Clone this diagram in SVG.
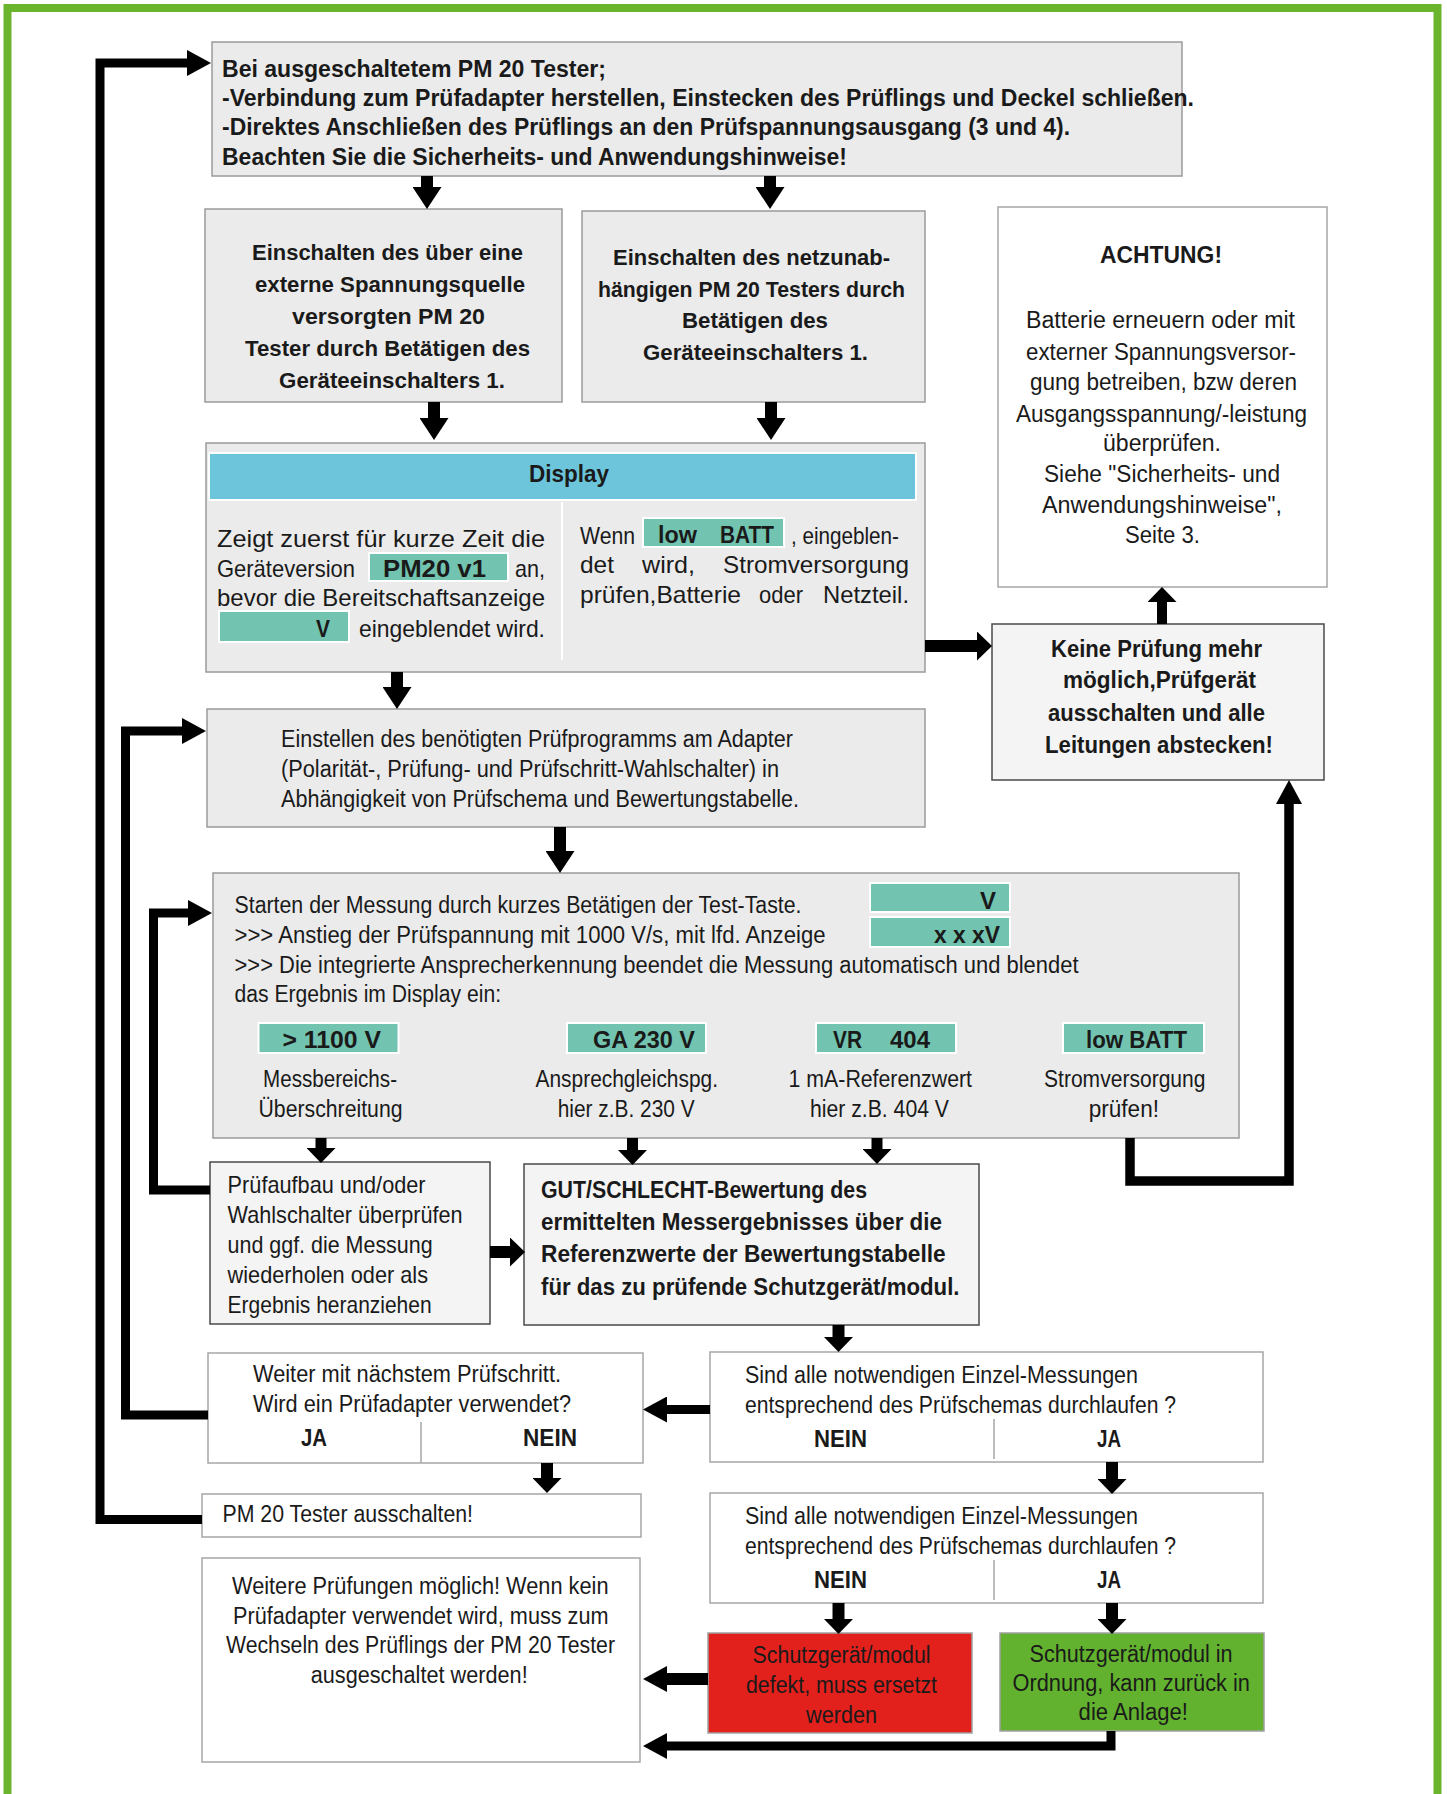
<svg xmlns="http://www.w3.org/2000/svg" width="1447" height="1794" viewBox="0 0 1447 1794">
<style>
text{font-family:"Liberation Sans",Arial,sans-serif;fill:#1a1a1a;font-size:23px}
.b{font-weight:bold}
.n24{font-size:24px}
.g{fill:#ebebeb;stroke:#9a9a9a;stroke-width:1.5}
.w{fill:#ffffff;stroke:#a6a6a6;stroke-width:1.5}
.l{fill:#f4f4f4;stroke:#4a4a4a;stroke-width:1.5}
.t{fill:#72c4b0;stroke:#ffffff;stroke-width:2}
.c{fill:none;stroke:#000;stroke-linejoin:miter}
.c12{stroke-width:12}
.c9{stroke-width:9}
</style>
<defs>
<marker id="ah" markerUnits="userSpaceOnUse" markerWidth="22" markerHeight="29" refX="0" refY="14.5" orient="auto"><path d="M0,0 L22,14.5 L0,29 z" fill="#000"/></marker>
<marker id="as" markerUnits="userSpaceOnUse" markerWidth="15" markerHeight="29" refX="0" refY="14.5" orient="auto"><path d="M0,0 L15,14.5 L0,29 z" fill="#000"/></marker>
<marker id="al" markerUnits="userSpaceOnUse" markerWidth="24" markerHeight="26" refX="0" refY="13" orient="auto"><path d="M0,0 L24,13 L0,26 z" fill="#000"/></marker>
</defs>
<rect x="0" y="0" width="1447" height="1794" fill="#fff"/>
<rect x="7.5" y="8" width="1430" height="1820" fill="#fff" stroke="#6bb52e" stroke-width="8"/>

<g id="start">
<rect class="g" x="212" y="42" width="970" height="134"/>
<text class="b" x="222" y="77" textLength="384" lengthAdjust="spacingAndGlyphs">Bei ausgeschaltetem PM 20 Tester;</text>
<text class="b" x="222" y="106" textLength="972" lengthAdjust="spacingAndGlyphs">-Verbindung zum Prüfadapter herstellen, Einstecken des Prüflings und Deckel schließen.</text>
<text class="b" x="222" y="135" textLength="848" lengthAdjust="spacingAndGlyphs">-Direktes Anschließen des Prüflings an den Prüfspannungsausgang (3 und 4).</text>
<text class="b" x="222" y="165" textLength="625" lengthAdjust="spacingAndGlyphs">Beachten Sie die Sicherheits- und Anwendungshinweise!</text>
</g>

<g id="ext">
<rect class="g" x="205" y="209" width="357" height="193"/>
<text class="b" style="font-size:22px" x="252" y="260" textLength="271" lengthAdjust="spacingAndGlyphs">Einschalten des über eine</text>
<text class="b" style="font-size:22px" x="255" y="292" textLength="270" lengthAdjust="spacingAndGlyphs">externe Spannungsquelle</text>
<text class="b" style="font-size:22px" x="292" y="324" textLength="193" lengthAdjust="spacingAndGlyphs">versorgten PM 20</text>
<text class="b" style="font-size:22px" x="245" y="356" textLength="285" lengthAdjust="spacingAndGlyphs">Tester durch Betätigen des</text>
<text class="b" style="font-size:22px" x="279" y="388" textLength="226" lengthAdjust="spacingAndGlyphs">Geräteeinschalters 1.</text>
</g>

<g id="batt">
<rect class="g" x="582" y="211" width="343" height="191"/>
<text class="b" style="font-size:22px" x="613" y="265" textLength="277" lengthAdjust="spacingAndGlyphs">Einschalten des netzunab-</text>
<text class="b" style="font-size:22px" x="598" y="297" textLength="307" lengthAdjust="spacingAndGlyphs">hängigen PM 20 Testers durch</text>
<text class="b" style="font-size:22px" x="682" y="328" textLength="146" lengthAdjust="spacingAndGlyphs">Betätigen des</text>
<text class="b" style="font-size:22px" x="643" y="360" textLength="225" lengthAdjust="spacingAndGlyphs">Geräteeinschalters 1.</text>
</g>

<g id="achtung">
<rect class="w" x="998" y="207" width="329" height="380"/>
<text class="b" style="font-size:24px" x="1100" y="263" textLength="122" lengthAdjust="spacingAndGlyphs">ACHTUNG!</text>
<text x="1026" y="328" textLength="269" lengthAdjust="spacingAndGlyphs">Batterie erneuern oder mit</text>
<text x="1026" y="360" textLength="270" lengthAdjust="spacingAndGlyphs">externer Spannungsversor-</text>
<text x="1030" y="390" textLength="267" lengthAdjust="spacingAndGlyphs">gung betreiben, bzw deren</text>
<text x="1016" y="422" textLength="291" lengthAdjust="spacingAndGlyphs">Ausgangsspannung/-leistung</text>
<text x="1103" y="451" textLength="118" lengthAdjust="spacingAndGlyphs">überprüfen.</text>
<text x="1044" y="482" textLength="236" lengthAdjust="spacingAndGlyphs">Siehe "Sicherheits- und</text>
<text x="1042" y="513" textLength="240" lengthAdjust="spacingAndGlyphs">Anwendungshinweise",</text>
<text x="1125" y="543" textLength="75" lengthAdjust="spacingAndGlyphs">Seite 3.</text>
</g>

<g id="display">
<rect class="g" x="206" y="443" width="719" height="229"/>
<rect x="209" y="453" width="707" height="47" fill="#6cc5da" stroke="#fff" stroke-width="2"/>
<text class="b" style="font-size:24px" x="529" y="482" textLength="80" lengthAdjust="spacingAndGlyphs">Display</text>
<line x1="562" y1="502" x2="562" y2="660" stroke="#fff" stroke-width="2"/>
<text class="n24" x="217" y="547" textLength="328" lengthAdjust="spacingAndGlyphs">Zeigt zuerst für kurze Zeit die</text>
<text class="n24" x="217" y="577" textLength="138" lengthAdjust="spacingAndGlyphs">Geräteversion</text>
<rect class="t" x="369" y="553" width="139" height="28"/>
<text class="b n24" x="383" y="577" textLength="103" lengthAdjust="spacingAndGlyphs">PM20 v1</text>
<text class="n24" x="515" y="577" textLength="30" lengthAdjust="spacingAndGlyphs">an,</text>
<text class="n24" x="217" y="606" textLength="328" lengthAdjust="spacingAndGlyphs">bevor die Bereitschaftsanzeige</text>
<rect class="t" x="219" y="611" width="130" height="31"/>
<text class="b n24" x="316" y="637" textLength="14" lengthAdjust="spacingAndGlyphs">V</text>
<text class="n24" x="359" y="637" textLength="186" lengthAdjust="spacingAndGlyphs">eingeblendet wird.</text>
<text class="n24" x="580" y="544" textLength="55" lengthAdjust="spacingAndGlyphs">Wenn</text>
<rect class="t" x="643" y="518" width="141" height="29"/>
<text class="b n24" x="658" y="543" textLength="39" lengthAdjust="spacingAndGlyphs">low</text>
<text class="b n24" x="720" y="543" textLength="54" lengthAdjust="spacingAndGlyphs">BATT</text>
<text class="n24" x="791" y="544" textLength="108" lengthAdjust="spacingAndGlyphs">, eingeblen-</text>
<text class="n24" x="580" y="573" textLength="34" lengthAdjust="spacingAndGlyphs">det</text>
<text class="n24" x="642" y="573" textLength="53" lengthAdjust="spacingAndGlyphs">wird,</text>
<text class="n24" x="723" y="573" textLength="186" lengthAdjust="spacingAndGlyphs">Stromversorgung</text>
<text class="n24" x="580" y="603" textLength="161" lengthAdjust="spacingAndGlyphs">prüfen,Batterie</text>
<text class="n24" x="759" y="603" textLength="44" lengthAdjust="spacingAndGlyphs">oder</text>
<text class="n24" x="823" y="603" textLength="86" lengthAdjust="spacingAndGlyphs">Netzteil.</text>
</g>

<g id="keine">
<rect class="l" x="992" y="624" width="332" height="156"/>
<text class="b" x="1051" y="657" textLength="211" lengthAdjust="spacingAndGlyphs">Keine Prüfung mehr</text>
<text class="b" x="1063" y="688" textLength="193" lengthAdjust="spacingAndGlyphs">möglich,Prüfgerät</text>
<text class="b" x="1048" y="721" textLength="217" lengthAdjust="spacingAndGlyphs">ausschalten und alle</text>
<text class="b" x="1045" y="753" textLength="228" lengthAdjust="spacingAndGlyphs">Leitungen abstecken!</text>
</g>

<g id="einstellen">
<rect class="g" x="207" y="709" width="718" height="118"/>
<text x="281" y="747" textLength="512" lengthAdjust="spacingAndGlyphs">Einstellen des benötigten Prüfprogramms am Adapter</text>
<text x="281" y="777" textLength="498" lengthAdjust="spacingAndGlyphs">(Polarität-, Prüfung- und Prüfschritt-Wahlschalter) in</text>
<text x="281" y="807" textLength="518" lengthAdjust="spacingAndGlyphs">Abhängigkeit von Prüfschema und Bewertungstabelle.</text>
</g>

<g id="starten">
<rect class="g" x="213" y="873" width="1026" height="265"/>
<text x="234.5" y="913" textLength="567" lengthAdjust="spacingAndGlyphs">Starten der Messung durch kurzes Betätigen der Test-Taste.</text>
<text x="234.5" y="943" textLength="591" lengthAdjust="spacingAndGlyphs">&gt;&gt;&gt; Anstieg der Prüfspannung mit 1000 V/s, mit lfd. Anzeige</text>
<text x="234.5" y="973" textLength="844" lengthAdjust="spacingAndGlyphs">&gt;&gt;&gt; Die integrierte Ansprecherkennung beendet die Messung automatisch und blendet</text>
<text x="234.5" y="1002" textLength="266.5" lengthAdjust="spacingAndGlyphs">das Ergebnis im Display ein:</text>
<rect class="t" x="870" y="883" width="140" height="29"/>
<text class="b" x="980" y="909" textLength="16" lengthAdjust="spacingAndGlyphs">V</text>
<rect class="t" x="870" y="917" width="140" height="30"/>
<text class="b" x="934" y="943" textLength="66" lengthAdjust="spacingAndGlyphs">x x xV</text>
<rect class="t" x="258.5" y="1023" width="140" height="30"/>
<text class="b" x="282.5" y="1048" textLength="98.5" lengthAdjust="spacingAndGlyphs">&gt; 1100 V</text>
<rect class="t" x="567" y="1023" width="139" height="30"/>
<text class="b" x="593" y="1048" textLength="102" lengthAdjust="spacingAndGlyphs">GA 230 V</text>
<rect class="t" x="816" y="1023" width="140" height="30"/>
<text class="b" x="833" y="1048" textLength="29" lengthAdjust="spacingAndGlyphs">VR</text>
<text class="b" x="890" y="1048" textLength="40" lengthAdjust="spacingAndGlyphs">404</text>
<rect class="t" x="1063" y="1023" width="141" height="30"/>
<text class="b" x="1086" y="1048" textLength="101" lengthAdjust="spacingAndGlyphs">low BATT</text>
<text x="263" y="1087" textLength="134" lengthAdjust="spacingAndGlyphs">Messbereichs-</text>
<text x="258.5" y="1117" textLength="144" lengthAdjust="spacingAndGlyphs">Überschreitung</text>
<text x="535.5" y="1087" textLength="182.5" lengthAdjust="spacingAndGlyphs">Ansprechgleichspg.</text>
<text x="557.7" y="1117" textLength="137" lengthAdjust="spacingAndGlyphs">hier z.B. 230 V</text>
<text x="788.6" y="1087" textLength="183.4" lengthAdjust="spacingAndGlyphs">1 mA-Referenzwert</text>
<text x="810" y="1117" textLength="139" lengthAdjust="spacingAndGlyphs">hier z.B. 404 V</text>
<text x="1044" y="1087" textLength="161.5" lengthAdjust="spacingAndGlyphs">Stromversorgung</text>
<text x="1088.7" y="1117" textLength="70.3" lengthAdjust="spacingAndGlyphs">prüfen!</text>
</g>

<g id="pruefaufbau">
<rect class="l" x="210" y="1162" width="280" height="162"/>
<text class="n24" x="227.6" y="1193" textLength="198" lengthAdjust="spacingAndGlyphs">Prüfaufbau und/oder</text>
<text class="n24" x="227.6" y="1223" textLength="235" lengthAdjust="spacingAndGlyphs">Wahlschalter überprüfen</text>
<text class="n24" x="227.6" y="1253" textLength="205" lengthAdjust="spacingAndGlyphs">und ggf. die Messung</text>
<text class="n24" x="227.6" y="1283" textLength="200.4" lengthAdjust="spacingAndGlyphs">wiederholen oder als</text>
<text class="n24" x="227.6" y="1313" textLength="204" lengthAdjust="spacingAndGlyphs">Ergebnis heranziehen</text>
</g>

<g id="bewertung">
<rect class="l" x="524" y="1164" width="455" height="161"/>
<text class="b" x="541" y="1198" textLength="326" lengthAdjust="spacingAndGlyphs">GUT/SCHLECHT-Bewertung des</text>
<text class="b" x="541" y="1230" textLength="401" lengthAdjust="spacingAndGlyphs">ermittelten Messergebnisses über die</text>
<text class="b" x="541" y="1262" textLength="404.6" lengthAdjust="spacingAndGlyphs">Referenzwerte der Bewertungstabelle</text>
<text class="b" x="541" y="1295" textLength="418.5" lengthAdjust="spacingAndGlyphs">für das zu prüfende Schutzgerät/modul.</text>
</g>

<g id="weiter">
<rect class="w" x="208" y="1353" width="435" height="110"/>
<text x="253" y="1382" textLength="308" lengthAdjust="spacingAndGlyphs">Weiter mit nächstem Prüfschritt.</text>
<text x="253" y="1412" textLength="318" lengthAdjust="spacingAndGlyphs">Wird ein Prüfadapter verwendet?</text>
<line x1="421" y1="1422" x2="421" y2="1463" stroke="#a6a6a6" stroke-width="1.5"/>
<text class="b" x="301" y="1446" textLength="26" lengthAdjust="spacingAndGlyphs">JA</text>
<text class="b" x="523" y="1446" textLength="54" lengthAdjust="spacingAndGlyphs">NEIN</text>
</g>

<g id="sind1">
<rect class="w" x="710" y="1352" width="553" height="110"/>
<text x="745" y="1383" textLength="393" lengthAdjust="spacingAndGlyphs">Sind alle notwendigen Einzel-Messungen</text>
<text x="745" y="1413" textLength="431" lengthAdjust="spacingAndGlyphs">entsprechend des Prüfschemas durchlaufen ?</text>
<line x1="994" y1="1419" x2="994" y2="1459" stroke="#a6a6a6" stroke-width="1.5"/>
<text class="b" x="814" y="1447" textLength="53" lengthAdjust="spacingAndGlyphs">NEIN</text>
<text class="b" x="1097" y="1447" textLength="24" lengthAdjust="spacingAndGlyphs">JA</text>
</g>

<g id="pm20aus">
<rect class="w" x="202" y="1494" width="439" height="43"/>
<text x="222.5" y="1522" textLength="250.5" lengthAdjust="spacingAndGlyphs">PM 20 Tester ausschalten!</text>
</g>

<g id="sind2">
<rect class="w" x="710" y="1493" width="553" height="110"/>
<text x="745" y="1524" textLength="393" lengthAdjust="spacingAndGlyphs">Sind alle notwendigen Einzel-Messungen</text>
<text x="745" y="1554" textLength="431" lengthAdjust="spacingAndGlyphs">entsprechend des Prüfschemas durchlaufen ?</text>
<line x1="994" y1="1560" x2="994" y2="1600" stroke="#a6a6a6" stroke-width="1.5"/>
<text class="b" x="814" y="1588" textLength="53" lengthAdjust="spacingAndGlyphs">NEIN</text>
<text class="b" x="1097" y="1588" textLength="24" lengthAdjust="spacingAndGlyphs">JA</text>
</g>

<g id="weitere">
<rect class="w" x="202" y="1558" width="438" height="204"/>
<text x="232" y="1594" textLength="376.5" lengthAdjust="spacingAndGlyphs">Weitere Prüfungen möglich! Wenn kein</text>
<text x="233" y="1624" textLength="375.5" lengthAdjust="spacingAndGlyphs">Prüfadapter verwendet wird, muss zum</text>
<text x="226" y="1653" textLength="389" lengthAdjust="spacingAndGlyphs">Wechseln des Prüflings der PM 20 Tester</text>
<text x="310.7" y="1683" textLength="217" lengthAdjust="spacingAndGlyphs">ausgeschaltet werden!</text>
</g>

<g id="defekt">
<rect x="708" y="1633" width="264" height="100" fill="#e2211c" stroke="#a0a0a0" stroke-width="1.5"/>
<text x="752.6" y="1663" textLength="178" lengthAdjust="spacingAndGlyphs">Schutzgerät/modul</text>
<text x="746" y="1693" textLength="191" lengthAdjust="spacingAndGlyphs">defekt, muss ersetzt</text>
<text x="806" y="1723" textLength="71" lengthAdjust="spacingAndGlyphs">werden</text>
</g>

<g id="inordnung">
<rect x="1000" y="1633" width="264" height="98" fill="#62b22f" stroke="#a0a0a0" stroke-width="1.5"/>
<text x="1029.6" y="1662" textLength="203" lengthAdjust="spacingAndGlyphs">Schutzgerät/modul in</text>
<text x="1012.5" y="1691" textLength="237.5" lengthAdjust="spacingAndGlyphs">Ordnung, kann zurück in</text>
<text x="1078.6" y="1720" textLength="109.4" lengthAdjust="spacingAndGlyphs">die Anlage!</text>
</g>

<g id="connectors">
<line class="c c12" x1="427" y1="176" x2="427" y2="187" marker-end="url(#ah)"/>
<line class="c c12" x1="770" y1="176" x2="770" y2="187" marker-end="url(#ah)"/>
<line class="c c12" x1="434" y1="402" x2="434" y2="418" marker-end="url(#ah)"/>
<line class="c c12" x1="771" y1="402" x2="771" y2="418" marker-end="url(#ah)"/>
<line class="c c12" x1="397" y1="672" x2="397" y2="687" marker-end="url(#ah)"/>
<line class="c c12" x1="560" y1="827" x2="560" y2="851" marker-end="url(#ah)"/>
<line class="c c12" x1="925" y1="646" x2="977" y2="646" marker-end="url(#as)"/>
<line class="c" stroke-width="10" x1="1162" y1="624" x2="1162" y2="602" marker-end="url(#as)"/>
<line class="c" stroke-width="11" x1="321" y1="1138" x2="321" y2="1148" marker-end="url(#as)"/>
<line class="c" stroke-width="11" x1="632.5" y1="1138" x2="632.5" y2="1150" marker-end="url(#as)"/>
<line class="c" stroke-width="11" x1="877" y1="1138" x2="877" y2="1149" marker-end="url(#as)"/>
<polyline class="c" stroke-width="9.5" points="1130,1138 1130,1181 1289,1181 1289,804" marker-end="url(#al)"/>
<line class="c c12" x1="490" y1="1252" x2="510" y2="1252" marker-end="url(#as)"/>
<polyline class="c c9" points="210,1190 153.5,1190 153.5,913 188,913" marker-end="url(#al)"/>
<line class="c c12" x1="838.5" y1="1325" x2="838.5" y2="1337" marker-end="url(#as)"/>
<line class="c c9" x1="710" y1="1409.5" x2="667" y2="1409.5" marker-end="url(#al)"/>
<polyline class="c c9" points="208,1415 125.5,1415 125.5,731 182,731" marker-end="url(#al)"/>
<line class="c c12" x1="547" y1="1463" x2="547" y2="1478" marker-end="url(#as)"/>
<polyline class="c c9" points="202,1519.5 100,1519.5 100,63 187,63" marker-end="url(#al)"/>
<line class="c c12" x1="1112" y1="1462" x2="1112" y2="1479" marker-end="url(#as)"/>
<line class="c c12" x1="838.5" y1="1603" x2="838.5" y2="1619" marker-end="url(#as)"/>
<line class="c c12" x1="1112" y1="1603" x2="1112" y2="1619" marker-end="url(#as)"/>
<line class="c c12" x1="708" y1="1679" x2="667" y2="1679" marker-end="url(#al)"/>
<polyline class="c c9" points="1111,1731 1111,1746 667,1746" marker-end="url(#al)"/>
</g>
</svg>
